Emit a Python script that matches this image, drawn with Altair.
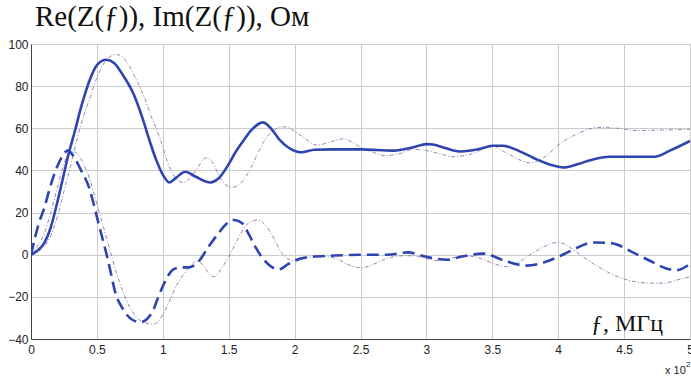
import altair as alt
import pandas as pd

# x in units of 10^2 MHz
re_meas_x = [0, 0.05, 0.1, 0.15, 0.2, 0.23, 0.29, 0.33, 0.38, 0.44, 0.5, 0.57, 0.63, 0.7, 0.78, 0.85, 0.9, 0.95, 1.0, 1.05, 1.1, 1.17, 1.25, 1.36, 1.42, 1.5, 1.55, 1.61, 1.67, 1.76, 1.82, 1.88, 1.95, 2.05, 2.15, 2.3, 2.5, 2.75, 2.9, 3.0, 3.05, 3.15, 3.26, 3.41, 3.5, 3.58, 3.7, 3.81, 3.94, 4.04, 4.15, 4.25, 4.39, 4.5, 4.6, 4.73, 4.85, 5.0]
re_meas_y = [0, 2, 5.5, 13, 25, 33, 49, 58, 70, 82, 90, 92.5, 91, 85, 76, 64, 54, 45, 38, 34.3, 36.5, 39.4, 37, 34.3, 36, 43, 48.5, 54, 59, 62.8, 60, 55, 51, 48.6, 49.8, 50, 50, 49.4, 51, 52.5, 52.3, 50.5, 49, 50.3, 51.7, 51.7, 49.3, 46, 42.7, 41.4, 43, 45, 46.5, 46.5, 46.5, 46.5, 49.5, 54]

im_meas_x = [0, 0.03, 0.06, 0.1, 0.14, 0.17, 0.2, 0.23, 0.28, 0.33, 0.38, 0.44, 0.48, 0.52, 0.57, 0.6, 0.64, 0.7, 0.76, 0.83, 0.88, 0.93, 0.96, 1.0, 1.04, 1.08, 1.14, 1.2, 1.26, 1.35, 1.42, 1.48, 1.54, 1.6, 1.65, 1.7, 1.75, 1.8, 1.88, 1.95, 2.0, 2.12, 2.27, 2.5, 2.7, 2.86, 3.0, 3.16, 3.26, 3.43, 3.6, 3.76, 3.9, 3.99, 4.1, 4.27, 4.4, 4.57, 4.7, 4.82, 4.9, 5.0]
im_meas_y = [0, 8, 15, 22, 31, 37, 42, 46, 49.4, 46, 40, 32, 23, 13, 1, -7, -18, -26, -30.5, -32, -30.5, -26, -21, -15, -10, -7, -6, -6, -4, 4, 10, 14.5, 16.5, 15, 10, 4, -1, -4.5, -7, -4.5, -2.8, -1, -0.5, 0, 0, 1.1, -1, -2.4, -1, 0.5, -3, -5.2, -3.5, -1.3, 2, 5.8, 5.5, 1, -3, -6.5, -7.3, -4.3]

re_model_x = [0, 0.1, 0.15, 0.2, 0.25, 0.3, 0.35, 0.4, 0.45, 0.5, 0.55, 0.6, 0.65, 0.7, 0.75, 0.8, 0.86, 0.91, 0.98, 1.03, 1.08, 1.15, 1.2, 1.25, 1.33, 1.38, 1.43, 1.48, 1.53, 1.6, 1.67, 1.72, 1.77, 1.83, 1.92, 2.05, 2.17, 2.27, 2.37, 2.5, 2.6, 2.68, 2.8, 2.9, 3.0, 3.1, 3.2, 3.35, 3.5, 3.6, 3.79, 3.9, 4.0, 4.15, 4.3, 4.45, 4.6, 4.8, 5.0]
re_model_y = [0, 4, 9, 18, 30, 42, 55, 66, 75, 84, 90.5, 94, 95, 93.5, 89, 83, 74.6, 66, 55, 45, 38, 34.3, 36, 40, 46, 43.5, 37, 33, 32, 34.5, 41.4, 48, 54, 58.5, 60.7, 56.5, 52, 53.5, 55, 51, 48.5, 47, 48, 50, 49.4, 48, 46.5, 48, 51.7, 48.5, 43.6, 46.5, 52, 57.5, 60.4, 60, 58.9, 59.2, 59.5]

im_model_x = [0, 0.05, 0.1, 0.15, 0.2, 0.25, 0.3, 0.35, 0.4, 0.45, 0.5, 0.55, 0.6, 0.65, 0.7, 0.75, 0.8, 0.85, 0.93, 1.0, 1.05, 1.1, 1.15, 1.2, 1.26, 1.3, 1.35, 1.39, 1.45, 1.5, 1.55, 1.6, 1.65, 1.72, 1.78, 1.85, 1.9, 1.95, 2.0, 2.1, 2.2, 2.32, 2.4, 2.5, 2.6, 2.7, 2.83, 2.9, 3.0, 3.08, 3.2, 3.3, 3.4, 3.5, 3.61, 3.7, 3.8, 3.9, 3.99, 4.05, 4.1, 4.2, 4.3, 4.4, 4.5, 4.6, 4.7, 4.8, 4.9, 5.0]
im_model_y = [0, 4, 10, 20, 32, 43, 49.5, 48, 43, 35, 24, 13, 2, -9, -18, -25, -29.5, -32, -33, -28.5, -22, -15, -10, -6, -3, -4.5, -9, -10.4, -6, -1, 5, 11, 15, 16.5, 14, 7, 1, -2, -3, -1.5, -0.8, -1.9, -4.5, -6.2, -4.5, -1.8, -0.5, -0.5, -1.9, -2.8, -1.5, -0.5, -1.5, -4, -5.7, -3.5, 0.5, 4, 5.8, 5, 3, -1.5, -5.5, -9, -11.5, -13, -13.5, -13.5, -12, -10.5]

series = [
    ("re_model", re_model_x, re_model_y),
    ("im_model", im_model_x, im_model_y),
    ("re_meas", re_meas_x, re_meas_y),
    ("im_meas", im_meas_x, im_meas_y),
]
rows = []
for name, xs, ys in series:
    for i, (xv, yv) in enumerate(zip(xs, ys)):
        rows.append({"s": name, "f": xv, "v": yv, "i": i})
df = pd.DataFrame(rows)

xs = alt.X("f:Q", scale=alt.Scale(domain=[0, 5], nice=False),
           axis=alt.Axis(values=[0, 0.5, 1, 1.5, 2, 2.5, 3, 3.5, 4, 4.5, 5], format="~g",
                         title=None, ticks=False, labelPadding=5, labelFontSize=12,
                         labelFont="Liberation Sans", labelColor="#222", gridColor="#cccccc",
                         domainColor="#444", labelFlush=False))
ys = alt.Y("v:Q", scale=alt.Scale(domain=[-40, 100], nice=False),
           axis=alt.Axis(values=[-40, -20, 0, 20, 40, 60, 80, 100], title=None, ticks=False,
                         labelPadding=3, labelFontSize=12, labelFont="Liberation Sans",
                         labelColor="#222", gridColor="#cccccc", domainColor="#444"))

base = alt.Chart(df)

model = base.transform_filter(alt.FieldOneOfPredicate(field="s", oneOf=["re_model", "im_model"])).mark_line(
    interpolate="monotone", color="#8a78a8", strokeWidth=0.9, strokeDash=[4, 2, 1, 2], clip=True
).encode(x=xs, y=ys, detail="s:N", order="i:Q")

re_line = base.transform_filter(alt.datum.s == "re_meas").mark_line(
    interpolate="monotone", color="#2e44b0", strokeWidth=2.6, clip=True
).encode(x=xs, y=ys, order="i:Q")

im_line = base.transform_filter(alt.datum.s == "im_meas").mark_line(
    interpolate="monotone", color="#2e44b0", strokeWidth=2.6, strokeDash=[12, 6], clip=True
).encode(x=xs, y=ys, order="i:Q")

lab = pd.DataFrame({"t": ["Re(Z(ƒ)), Im(Z(ƒ)), Ом"]})
title = alt.Chart(lab).mark_text(
    align="left", baseline="alphabetic", font="Liberation Serif", fontSize=29, color="#111"
).encode(x=alt.value(4), y=alt.value(-18), text="t:N")

flab = pd.DataFrame({"t": ["ƒ, МГц"]})
ftext = alt.Chart(flab).mark_text(
    align="left", baseline="alphabetic", font="Liberation Serif", fontSize=24, color="#111"
).encode(x=alt.value(560), y=alt.value(287), text="t:N")

xlab = pd.DataFrame({"t": ["x 10"]})
xtext = alt.Chart(xlab).mark_text(
    align="left", baseline="alphabetic", font="Liberation Sans", fontSize=11, color="#222"
).encode(x=alt.value(634), y=alt.value(330), text="t:N")
elab = pd.DataFrame({"t": ["2"]})
etext = alt.Chart(elab).mark_text(
    align="left", baseline="alphabetic", font="Liberation Sans", fontSize=8, color="#222"
).encode(x=alt.value(655), y=alt.value(323), text="t:N")

chart = alt.layer(model, re_line, im_line, title, ftext, xtext, etext).properties(
    width=659, height=295,
    autosize=alt.AutoSizeParams(type="none"),
    padding={"left": 31, "top": 44, "right": 1, "bottom": 37},
).configure_view(stroke="#666", strokeWidth=1).configure(background="white")

chart.save("out.html", embed_options={"renderer": "svg", "actions": False})
